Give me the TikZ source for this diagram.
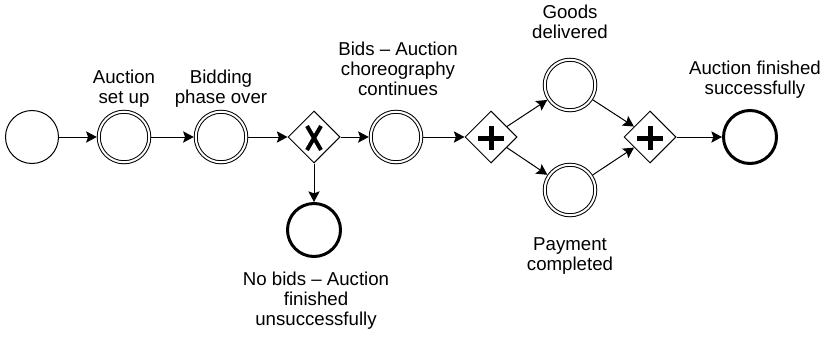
\documentclass[tikz,border=0pt]{standalone}
\usepackage{fontspec}
\setmainfont{Liberation Sans}
\usetikzlibrary{shapes.geometric, arrows.meta, calc}

\begin{document}
\begin{tikzpicture}[x=0.75pt, y=-0.75pt,
  startev/.style={circle, draw, line width=0.75pt, minimum size=39.75pt, inner sep=0pt},
  interev/.style={circle, draw, line width=0.75pt, double, double distance=1.5pt, minimum size=37.9pt, inner sep=0pt, outer sep=1.5pt},
  endev/.style={circle, draw, line width=2.25pt, minimum size=39.75pt, inner sep=0pt},
  gate/.style={diamond, draw, line width=0.75pt, minimum size=39pt, inner sep=0pt},
  flow/.style={-{Stealth[length=8pt, width=8.5pt, inset=1.5pt]}, line width=0.75pt},
  lbl/.style={anchor=base, align=center, inner sep=0pt, font=\fontsize{14}{15}\selectfont},
  marker/.style={line width=3pt}]
  \useasboundingbox (0,0) rectangle (824,343);

  % Events and gateways
  \node[startev] (start) at (32,137) {};
  \node[interev] (setup) at (124,137) {};
  \node[interev] (over) at (221,137) {};
  \node[gate] (xor) at (314,137) {};
  \node[interev] (cont) at (396,137) {};
  \node[gate] (fork) at (491,137) {};
  \node[interev] (goods) at (570,85) {};
  \node[interev] (pay) at (570,190) {};
  \node[gate] (join) at (650,137) {};
  \node[endev] (done) at (750,137) {};
  \node[endev] (fail) at (314,230) {};

  % Gateway markers
  \draw[marker] ($(xor)+(-7,-11)$) -- ($(xor)+(7,13)$);
  \draw[marker] ($(xor)+(7,-11)$) -- ($(xor)+(-7,13)$);
  \foreach \g in {fork, join} {
    \draw[marker, line width=3.75pt] ($(\g)+(-13,1)$) -- ($(\g)+(13,1)$);
    \draw[marker, line width=3.75pt] ($(\g)+(0,-11)$) -- ($(\g)+(0,13)$);
  }

  % Sequence flows
  \draw[flow] (start) -- (setup);
  \draw[flow] (setup) -- (over);
  \draw[flow] (over) -- (xor);
  \draw[flow] (xor) -- (cont);
  \draw[flow] (xor) -- (fail);
  \draw[flow] (cont) -- (fork);
  \draw[flow] (fork) -- (goods);
  \draw[flow] (fork) -- (pay);
  \draw[flow] (goods) -- (join);
  \draw[flow] (pay) -- (join);
  \draw[flow] (join) -- (done);

  % Labels (base = last line)
  \node[lbl] (lsetup) at (124,103) {Auction\\set up};
  \node[lbl] (lover) at (221,103) {Bidding\\phase over};
  \node[lbl] (lcont) at (398,95) {Bids – Auction\\choreography\\continues};
  \node[lbl] (lgoods) at (570,38) {Goods\\delivered};
  \node[lbl] (ldone) at (755,94) {Auction finished\\successfully};
  \node[lbl] (lpay) at (570,270) {Payment\\completed};
  \node[lbl] (lfail) at (316,325) {No bids – Auction\\finished\\unsuccessfully};
\end{tikzpicture}
\end{document}
